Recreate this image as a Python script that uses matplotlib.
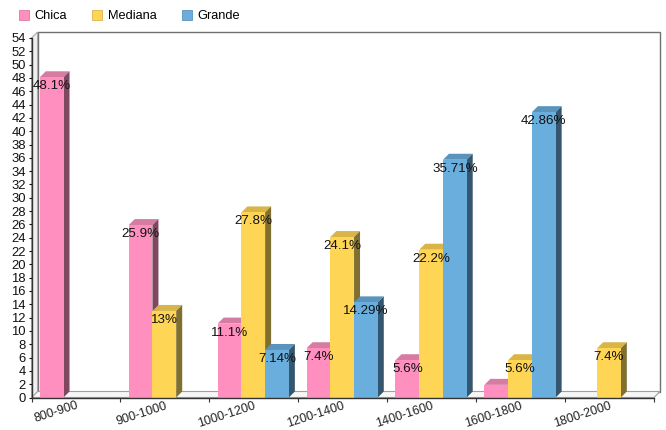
import matplotlib
matplotlib.use("Agg")
import matplotlib.pyplot as plt
from matplotlib.patches import Polygon, Patch

plt.rcParams['font.family'] = ['Liberation Sans', 'DejaVu Sans']

categories = ['800-900', '900-1000', '1000-1200', '1200-1400', '1400-1600', '1600-1800', '1800-2000']
series_names = ['Chica', 'Mediana', 'Grande']
chica = [48.1, 25.9, 11.1, 7.4, 5.6, 1.9, 0]
mediana = [0, 13, 27.8, 24.1, 22.2, 5.6, 7.4]
grande = [0, 0, 7.14, 14.29, 35.71, 42.86, 0]
chica_labels = ['48.1%', '25.9%', '11.1%', '7.4%', '5.6%', '', '']
mediana_labels = ['', '13%', '27.8%', '24.1%', '22.2%', '5.6%', '7.4%']
grande_labels = ['', '', '7.14%', '14.29%', '35.71%', '42.86%', '']

front = ['#FF8FBF', '#FFD555', '#6AAEDD']
top = ['#D67CA3', '#D9B548', '#5A94BC']
side = ['#804860', '#80702F', '#35566F']

W, H = 666, 430
L, R, B, T = 31.5, 654, 397.5, 38
fig = plt.figure(figsize=(W / 100, H / 100), dpi=100)
ax = fig.add_axes([L / W, 1 - B / H, (R - L) / W, (B - T) / H])
ax.set_xlim(0, len(categories))
ax.set_ylim(0, 54)

px_x = len(categories) / (R - L)
px_y = 54 / (B - T)
dx, dy = 6 * px_x, 6 * px_y
nx, ny = len(categories), 54

# back wall, floor, side wall
ax.add_patch(Polygon([(dx, dy), (nx + dx, dy), (nx + dx, ny + dy), (dx, ny + dy)],
                     closed=True, fc='white', ec='#707070', lw=1.0, clip_on=False, zorder=1))
ax.add_patch(Polygon([(0, 0), (nx, 0), (nx + dx, dy), (dx, dy)],
                     closed=True, fc='#F6F6F6', ec='#A0A0A0', lw=0.8, clip_on=False, zorder=1.1))
ax.add_patch(Polygon([(0, 0), (dx, dy), (dx, ny + dy), (0, ny)],
                     closed=True, fc='#F0F0F0', ec='#A8A8A8', lw=0.8, clip_on=False, zorder=1.1))

offset, width = 0.093, 0.267
z = 2.0
labels = []
for cat in range(len(categories)):
    for s, (vals, labs) in enumerate(zip([chica, mediana, grande],
                                         [chica_labels, mediana_labels, grande_labels])):
        v = vals[cat]
        if v <= 0:
            continue
        x0 = cat + offset + s * width
        x1 = x0 + width
        ax.add_patch(Polygon([(x0, v), (x1, v), (x1 + dx, v + dy), (x0 + dx, v + dy)],
                             closed=True, fc=top[s], ec='none', clip_on=False, zorder=z))
        ax.add_patch(Polygon([(x1, 0), (x1 + dx, dy), (x1 + dx, v + dy), (x1, v)],
                             closed=True, fc=side[s], ec='none', clip_on=False, zorder=z))
        ax.bar(x0, v, width=width, align='edge', color=front[s], linewidth=0, zorder=z + 0.1)
        z += 0.2
        if labs[cat]:
            labels.append(((x0 + x1) / 2, v, labs[cat]))

for x, v, t in labels:
    ax.annotate(t, (x, v), xytext=(0, -6.5), textcoords='offset points', ha='center', va='center',
                fontsize=9.6, color='#111111', zorder=50, annotation_clip=False)

for sp in ['top', 'right']:
    ax.spines[sp].set_visible(False)
for sp in ['left', 'bottom']:
    ax.spines[sp].set_color('#333333')
    ax.spines[sp].set_linewidth(1.0)
    ax.spines[sp].set_zorder(40)

ax.set_yticks(range(0, 55, 2))
ax.tick_params(axis='y', length=2.5, width=0.8, pad=1.5, labelsize=9.4, colors='#111111')
ax.set_xticks(range(len(categories) + 1))
ax.set_xticklabels([''] * (len(categories) + 1))
ax.tick_params(axis='x', which='major', length=3, width=0.8, color='#333333')
ax.set_xticks([i + 0.5 for i in range(len(categories))], minor=True)
ax.set_xticklabels(categories, minor=True, rotation=18, ha='right', va='top',
                   rotation_mode='anchor', fontsize=9.0, color='#222222')
ax.tick_params(axis='x', which='minor', length=0, pad=1.5)

handles = [Patch(fc=c, ec=t_, lw=0.6) for c, t_ in zip(front, top)]
fig.legend(handles, series_names, loc='upper left', bbox_to_anchor=(15 / W, 1 - 6 / H),
           ncols=3, frameon=False, fontsize=9.2, handlelength=0.8, handleheight=0.8,
           handletextpad=0.45, columnspacing=1.95, borderpad=0.3, borderaxespad=0)

fig.savefig('out.png', dpi=100)
